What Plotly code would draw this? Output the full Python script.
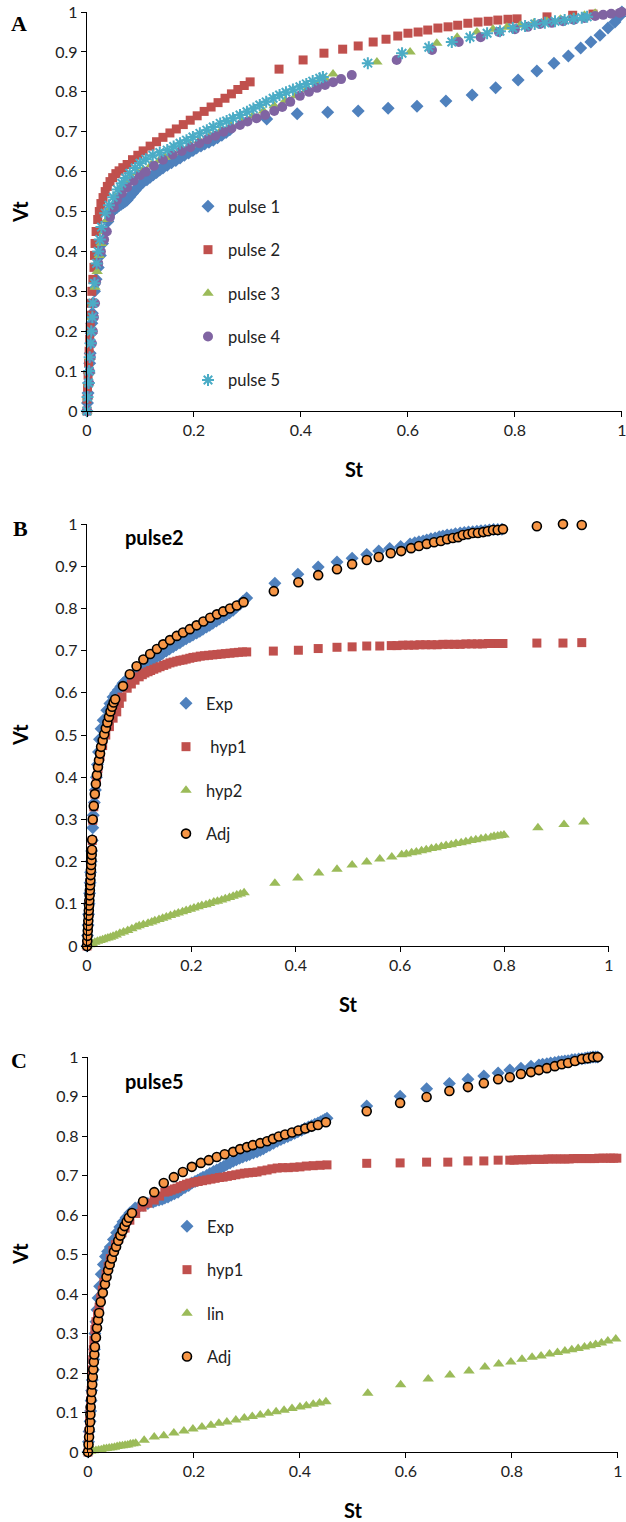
import plotly.graph_objects as go

# ---------------- Panel A data ----------------
a_p1_x = [0, 0.001, 0.002, 0.003, 0.004, 0.005, 0.006, 0.007, 0.008, 0.009, 0.010, 0.011, 0.014, 0.017, 0.021, 0.025, 0.029, 0.034, 0.039, 0.043, 0.047, 0.051, 0.056, 0.06, 0.064, 0.068, 0.072, 0.075, 0.08, 0.085, 0.09, 0.095, 0.1, 0.105, 0.112, 0.118, 0.124, 0.13, 0.136, 0.142, 0.15, 0.158, 0.166, 0.174, 0.182, 0.19, 0.198, 0.205, 0.213, 0.22, 0.228, 0.236, 0.244, 0.252, 0.26, 0.267, 0.336, 0.393, 0.45, 0.507, 0.563, 0.617, 0.671, 0.72, 0.764, 0.806, 0.841, 0.873, 0.9, 0.923, 0.942, 0.959, 0.974, 0.987, 0.996, 1.0]
a_p1_y = [0, 0.02, 0.045, 0.07, 0.095, 0.12, 0.145, 0.17, 0.195, 0.22, 0.245, 0.27, 0.3, 0.33, 0.36, 0.39, 0.42, 0.45, 0.475, 0.496, 0.5, 0.505, 0.51, 0.515, 0.518, 0.522, 0.526, 0.529, 0.537, 0.545, 0.553, 0.561, 0.568, 0.574, 0.58, 0.586, 0.592, 0.598, 0.604, 0.609, 0.616, 0.622, 0.628, 0.634, 0.641, 0.647, 0.653, 0.659, 0.664, 0.669, 0.674, 0.679, 0.685, 0.691, 0.698, 0.705, 0.732, 0.745, 0.749, 0.752, 0.759, 0.764, 0.777, 0.792, 0.81, 0.83, 0.852, 0.872, 0.89, 0.91, 0.925, 0.942, 0.96, 0.975, 0.99, 1.0]

a_p2_x = [0, 0.0, 0.001, 0.002, 0.003, 0.004, 0.005, 0.006, 0.007, 0.008, 0.009, 0.011, 0.013, 0.014, 0.015, 0.017, 0.02, 0.023, 0.026, 0.03, 0.034, 0.038, 0.043, 0.048, 0.054, 0.06, 0.067, 0.075, 0.085, 0.095, 0.105, 0.118, 0.13, 0.142, 0.155, 0.167, 0.18, 0.193, 0.206, 0.219, 0.232, 0.245, 0.258, 0.27, 0.282, 0.294, 0.305, 0.359, 0.404, 0.443, 0.478, 0.507, 0.535, 0.559, 0.581, 0.60, 0.619, 0.637, 0.656, 0.675, 0.693, 0.712, 0.731, 0.75, 0.768, 0.787, 0.804, 0.86, 0.908, 0.946]
a_p2_y = [0, 0.03, 0.06, 0.09, 0.12, 0.15, 0.18, 0.21, 0.24, 0.27, 0.30, 0.33, 0.36, 0.39, 0.42, 0.45, 0.48, 0.5, 0.52, 0.535, 0.55, 0.563, 0.575, 0.585, 0.595, 0.602, 0.61, 0.618, 0.63, 0.641, 0.652, 0.664, 0.675, 0.686, 0.697, 0.707, 0.718, 0.729, 0.74, 0.751, 0.762, 0.773, 0.784, 0.795, 0.806, 0.816, 0.825, 0.857, 0.88, 0.897, 0.907, 0.915, 0.925, 0.932, 0.94, 0.947, 0.95, 0.955, 0.96, 0.963, 0.967, 0.972, 0.975, 0.977, 0.98, 0.982, 0.983, 0.988, 0.992, 0.995]

a_p3_x = [0, 0.001, 0.003, 0.004, 0.006, 0.007, 0.009, 0.01, 0.012, 0.015, 0.019, 0.023, 0.027, 0.032, 0.038, 0.045, 0.053, 0.062, 0.072, 0.083, 0.095, 0.105, 0.12, 0.135, 0.146, 0.16, 0.175, 0.193, 0.21, 0.23, 0.25, 0.27, 0.29, 0.31, 0.33, 0.35, 0.37, 0.39, 0.41, 0.43, 0.445, 0.46, 0.542, 0.604, 0.654, 0.692, 0.729, 0.759, 0.785, 0.81, 0.835, 0.86, 0.885, 0.91, 0.93, 0.95]
a_p3_y = [0, 0.035, 0.07, 0.1, 0.135, 0.17, 0.2, 0.235, 0.27, 0.31, 0.35, 0.39, 0.42, 0.45, 0.48, 0.51, 0.535, 0.555, 0.572, 0.586, 0.597, 0.605, 0.617, 0.628, 0.636, 0.647, 0.656, 0.667, 0.678, 0.69, 0.703, 0.716, 0.728, 0.74, 0.752, 0.765, 0.778, 0.79, 0.805, 0.82, 0.833, 0.845, 0.875, 0.90, 0.922, 0.937, 0.95, 0.957, 0.962, 0.967, 0.972, 0.977, 0.982, 0.987, 0.992, 0.997]

a_p4_x = [0, 0.002, 0.004, 0.005, 0.007, 0.009, 0.011, 0.013, 0.015, 0.017, 0.021, 0.026, 0.032, 0.037, 0.043, 0.05, 0.056, 0.065, 0.075, 0.087, 0.099, 0.11, 0.125, 0.142, 0.16, 0.177, 0.193, 0.21, 0.225, 0.24, 0.255, 0.27, 0.286, 0.3, 0.317, 0.333, 0.35, 0.365, 0.38, 0.398, 0.415, 0.43, 0.445, 0.46, 0.475, 0.495, 0.579, 0.645, 0.695, 0.736, 0.77, 0.80, 0.824, 0.847, 0.869, 0.89, 0.91, 0.93, 0.95, 0.965, 0.98, 0.996, 1.0]
a_p4_y = [0, 0.035, 0.07, 0.1, 0.135, 0.17, 0.2, 0.235, 0.27, 0.323, 0.37, 0.4, 0.43, 0.45, 0.486, 0.51, 0.529, 0.546, 0.561, 0.577, 0.591, 0.6, 0.615, 0.63, 0.643, 0.652, 0.661, 0.671, 0.681, 0.69, 0.7, 0.708, 0.717, 0.726, 0.734, 0.742, 0.752, 0.762, 0.775, 0.79, 0.8, 0.81, 0.817, 0.824, 0.832, 0.842, 0.88, 0.905, 0.925, 0.937, 0.95, 0.957, 0.963, 0.97, 0.973, 0.977, 0.981, 0.985, 0.99, 0.993, 0.996, 0.998, 1.0]

a_p5_x = [0, 0.001, 0.003, 0.004, 0.005, 0.007, 0.008, 0.01, 0.011, 0.014, 0.018, 0.021, 0.024, 0.027, 0.034, 0.041, 0.049, 0.057, 0.065, 0.072, 0.08, 0.09, 0.099, 0.11, 0.123, 0.136, 0.15, 0.162, 0.174, 0.186, 0.198, 0.211, 0.224, 0.236, 0.249, 0.261, 0.273, 0.286, 0.299, 0.311, 0.323, 0.335, 0.348, 0.36, 0.372, 0.385, 0.398, 0.41, 0.422, 0.435, 0.441, 0.525, 0.589, 0.639, 0.682, 0.716, 0.748, 0.772, 0.796, 0.819, 0.837, 0.856, 0.875, 0.893, 0.91, 0.925, 0.935]
a_p5_y = [0, 0.035, 0.07, 0.1, 0.135, 0.17, 0.2, 0.235, 0.27, 0.32, 0.37, 0.4, 0.43, 0.461, 0.496, 0.516, 0.536, 0.555, 0.571, 0.584, 0.596, 0.609, 0.621, 0.631, 0.641, 0.648, 0.654, 0.663, 0.671, 0.679, 0.687, 0.696, 0.704, 0.712, 0.721, 0.727, 0.734, 0.742, 0.75, 0.758, 0.767, 0.775, 0.784, 0.792, 0.799, 0.806, 0.813, 0.82, 0.827, 0.834, 0.837, 0.872, 0.897, 0.912, 0.925, 0.937, 0.947, 0.952, 0.96, 0.965, 0.97, 0.973, 0.977, 0.98, 0.983, 0.986, 0.988]

# ---------------- Panel B data (pulse2) ----------------
b_exp_x = [0, 0.001, 0.002, 0.003, 0.004, 0.005, 0.006, 0.007, 0.008, 0.009, 0.01, 0.011, 0.012, 0.014, 0.016, 0.018, 0.02, 0.022, 0.024, 0.027, 0.031, 0.038, 0.044, 0.05, 0.055, 0.06, 0.065, 0.069, 0.075, 0.08, 0.088, 0.096, 0.103, 0.11, 0.118, 0.126, 0.132, 0.139, 0.145, 0.152, 0.158, 0.165, 0.171, 0.178, 0.184, 0.19, 0.197, 0.203, 0.21, 0.216, 0.222, 0.229, 0.235, 0.241, 0.248, 0.254, 0.261, 0.267, 0.273, 0.28, 0.286, 0.293, 0.299, 0.306, 0.36, 0.404, 0.443, 0.479, 0.508, 0.536, 0.559, 0.58, 0.601, 0.619, 0.628, 0.636, 0.644, 0.651, 0.659, 0.667, 0.675, 0.682, 0.69, 0.698, 0.706, 0.715, 0.723, 0.731, 0.739, 0.747, 0.755, 0.763, 0.771, 0.779, 0.787, 0.795]
b_exp_y = [0, 0.025, 0.05, 0.075, 0.1, 0.125, 0.15, 0.175, 0.2, 0.225, 0.25, 0.28, 0.31, 0.34, 0.37, 0.4, 0.43, 0.46, 0.49, 0.515, 0.535, 0.559, 0.575, 0.59, 0.599, 0.607, 0.615, 0.623, 0.629, 0.636, 0.643, 0.65, 0.657, 0.664, 0.671, 0.678, 0.683, 0.688, 0.694, 0.699, 0.704, 0.709, 0.714, 0.719, 0.724, 0.728, 0.733, 0.737, 0.742, 0.746, 0.751, 0.756, 0.76, 0.765, 0.77, 0.775, 0.78, 0.785, 0.79, 0.796, 0.803, 0.81, 0.817, 0.825, 0.86, 0.881, 0.898, 0.91, 0.919, 0.928, 0.936, 0.942, 0.947, 0.953, 0.956, 0.958, 0.96, 0.962, 0.965, 0.967, 0.97, 0.972, 0.974, 0.975, 0.977, 0.979, 0.98, 0.981, 0.982, 0.983, 0.984, 0.985, 0.986, 0.987, 0.987, 0.988]

b_hyp1_x = [0, 0.001, 0.002, 0.003, 0.004, 0.005, 0.006, 0.007, 0.008, 0.009, 0.01, 0.011, 0.013, 0.015, 0.018, 0.021, 0.025, 0.03, 0.036, 0.043, 0.05, 0.057, 0.062, 0.067, 0.077, 0.085, 0.092, 0.1, 0.106, 0.111, 0.117, 0.122, 0.128, 0.134, 0.14, 0.147, 0.153, 0.159, 0.165, 0.172, 0.178, 0.184, 0.19, 0.197, 0.203, 0.21, 0.217, 0.225, 0.233, 0.241, 0.249, 0.257, 0.265, 0.274, 0.282, 0.29, 0.298, 0.306, 0.357, 0.405, 0.443, 0.479, 0.508, 0.536, 0.561, 0.583, 0.594, 0.605, 0.616, 0.627, 0.638, 0.649, 0.66, 0.671, 0.682, 0.693, 0.704, 0.715, 0.726, 0.737, 0.748, 0.758, 0.769, 0.78, 0.789, 0.797, 0.862, 0.912, 0.948]
b_hyp1_y = [0, 0.025, 0.05, 0.075, 0.1, 0.125, 0.15, 0.175, 0.2, 0.225, 0.25, 0.298, 0.33, 0.36, 0.39, 0.42, 0.45, 0.475, 0.5, 0.52, 0.54, 0.555, 0.575, 0.59, 0.611, 0.621, 0.63, 0.638, 0.643, 0.647, 0.65, 0.653, 0.656, 0.659, 0.662, 0.665, 0.668, 0.671, 0.673, 0.675, 0.677, 0.678, 0.68, 0.682, 0.684, 0.685, 0.687, 0.688, 0.689, 0.69, 0.691, 0.692, 0.693, 0.694, 0.695, 0.696, 0.697, 0.697, 0.699, 0.701, 0.705, 0.708, 0.709, 0.711, 0.711, 0.712, 0.712, 0.713, 0.713, 0.713, 0.714, 0.714, 0.714, 0.714, 0.715, 0.715, 0.715, 0.715, 0.716, 0.716, 0.716, 0.716, 0.717, 0.717, 0.717, 0.717, 0.718, 0.718, 0.719]

b_hyp2_x = [0, 0.005, 0.01, 0.015, 0.02, 0.025, 0.03, 0.035, 0.04, 0.045, 0.05, 0.056, 0.063, 0.07, 0.078, 0.086, 0.094, 0.1, 0.108, 0.117, 0.124, 0.13, 0.138, 0.145, 0.152, 0.16, 0.168, 0.175, 0.183, 0.19, 0.198, 0.205, 0.213, 0.22, 0.228, 0.235, 0.243, 0.25, 0.258, 0.265, 0.273, 0.28, 0.287, 0.294, 0.301, 0.36, 0.404, 0.444, 0.479, 0.508, 0.536, 0.561, 0.584, 0.603, 0.612, 0.622, 0.631, 0.641, 0.65, 0.66, 0.669, 0.679, 0.688, 0.698, 0.707, 0.717, 0.726, 0.736, 0.745, 0.755, 0.764, 0.774, 0.78, 0.787, 0.793, 0.799, 0.864, 0.914, 0.952]
b_hyp2_y = [0, 0.003, 0.006, 0.009, 0.011, 0.013, 0.015, 0.017, 0.019, 0.021, 0.023, 0.026, 0.03, 0.033, 0.037, 0.041, 0.045, 0.048, 0.051, 0.054, 0.057, 0.06, 0.063, 0.066, 0.069, 0.072, 0.075, 0.078, 0.081, 0.084, 0.087, 0.09, 0.093, 0.096, 0.098, 0.101, 0.104, 0.106, 0.109, 0.112, 0.115, 0.118, 0.121, 0.123, 0.126, 0.149, 0.161, 0.173, 0.182, 0.192, 0.199, 0.206, 0.211, 0.216, 0.218, 0.221, 0.223, 0.226, 0.228, 0.231, 0.233, 0.236, 0.238, 0.24, 0.243, 0.245, 0.247, 0.25, 0.252, 0.254, 0.256, 0.258, 0.26, 0.261, 0.262, 0.263, 0.28, 0.288, 0.294]

b_adj_x = [0, 0.0005, 0.001, 0.0015, 0.002, 0.0025, 0.003, 0.0035, 0.004, 0.0045, 0.005, 0.0055, 0.006, 0.0065, 0.007, 0.0075, 0.008, 0.0085, 0.009, 0.0095, 0.01, 0.011, 0.013, 0.015, 0.017, 0.019, 0.021, 0.023, 0.025, 0.027, 0.03, 0.033, 0.036, 0.039, 0.042, 0.045, 0.048, 0.051, 0.054, 0.069, 0.082, 0.095, 0.108, 0.121, 0.134, 0.146, 0.159, 0.172, 0.184, 0.197, 0.21, 0.223, 0.236, 0.249, 0.261, 0.274, 0.287, 0.3, 0.358, 0.405, 0.443, 0.479, 0.508, 0.536, 0.559, 0.582, 0.602, 0.621, 0.636, 0.651, 0.665, 0.678, 0.69, 0.701, 0.711, 0.72, 0.73, 0.739, 0.749, 0.759, 0.768, 0.778, 0.787, 0.797, 0.862, 0.912, 0.948]
b_adj_y = [0, 0.012, 0.024, 0.036, 0.048, 0.06, 0.072, 0.084, 0.096, 0.108, 0.12, 0.132, 0.144, 0.156, 0.168, 0.18, 0.192, 0.204, 0.216, 0.228, 0.252, 0.3, 0.332, 0.36, 0.384, 0.405, 0.424, 0.44, 0.456, 0.472, 0.487, 0.502, 0.516, 0.53, 0.543, 0.556, 0.567, 0.577, 0.585, 0.616, 0.644, 0.663, 0.679, 0.692, 0.704, 0.715, 0.725, 0.735, 0.743, 0.751, 0.76, 0.769, 0.778, 0.786, 0.793, 0.8, 0.807, 0.815, 0.841, 0.862, 0.879, 0.893, 0.905, 0.915, 0.922, 0.931, 0.936, 0.943, 0.948, 0.953, 0.957, 0.96, 0.964, 0.967, 0.969, 0.974, 0.976, 0.979, 0.979, 0.981, 0.983, 0.986, 0.986, 0.988, 0.995, 1.0, 0.998]

# ---------------- Panel C data (pulse5) ----------------
c_exp_x = [0, 0.001, 0.002, 0.004, 0.005, 0.006, 0.007, 0.008, 0.01, 0.011, 0.012, 0.013, 0.015, 0.017, 0.019, 0.022, 0.025, 0.029, 0.033, 0.037, 0.042, 0.048, 0.054, 0.06, 0.066, 0.072, 0.079, 0.089, 0.096, 0.104, 0.113, 0.123, 0.128, 0.134, 0.14, 0.145, 0.151, 0.157, 0.163, 0.17, 0.176, 0.183, 0.19, 0.196, 0.202, 0.207, 0.212, 0.217, 0.224, 0.23, 0.237, 0.243, 0.25, 0.256, 0.262, 0.268, 0.274, 0.28, 0.286, 0.292, 0.299, 0.305, 0.312, 0.319, 0.325, 0.331, 0.337, 0.343, 0.35, 0.357, 0.364, 0.37, 0.377, 0.383, 0.39, 0.396, 0.403, 0.409, 0.416, 0.422, 0.428, 0.434, 0.439, 0.443, 0.447, 0.451, 0.526, 0.589, 0.639, 0.682, 0.717, 0.747, 0.774, 0.796, 0.817, 0.836, 0.851, 0.858, 0.866, 0.873, 0.881, 0.888, 0.894, 0.9, 0.906, 0.913, 0.919, 0.926, 0.932, 0.938, 0.943, 0.948, 0.953, 0.958, 0.962]
c_exp_y = [0, 0.026, 0.052, 0.078, 0.104, 0.13, 0.156, 0.182, 0.208, 0.234, 0.26, 0.3, 0.33, 0.36, 0.39, 0.42, 0.45, 0.475, 0.495, 0.508, 0.519, 0.538, 0.555, 0.57, 0.583, 0.594, 0.605, 0.618, 0.621, 0.625, 0.629, 0.633, 0.636, 0.638, 0.64, 0.643, 0.646, 0.65, 0.654, 0.658, 0.664, 0.67, 0.675, 0.681, 0.685, 0.688, 0.692, 0.696, 0.7, 0.705, 0.71, 0.714, 0.719, 0.723, 0.728, 0.732, 0.736, 0.74, 0.744, 0.747, 0.75, 0.753, 0.757, 0.76, 0.764, 0.768, 0.773, 0.777, 0.782, 0.787, 0.791, 0.795, 0.799, 0.803, 0.807, 0.811, 0.815, 0.819, 0.823, 0.826, 0.83, 0.833, 0.836, 0.839, 0.842, 0.845, 0.876, 0.901, 0.92, 0.933, 0.944, 0.952, 0.96, 0.967, 0.972, 0.977, 0.98, 0.982, 0.983, 0.985, 0.986, 0.988, 0.989, 0.99, 0.991, 0.993, 0.994, 0.995, 0.996, 0.997, 0.998, 0.999, 1.0, 1.0, 1.0]

c_hyp1_x = [0, 0.001, 0.002, 0.003, 0.004, 0.005, 0.006, 0.007, 0.008, 0.009, 0.01, 0.011, 0.013, 0.015, 0.018, 0.021, 0.024, 0.027, 0.03, 0.034, 0.038, 0.042, 0.047, 0.052, 0.058, 0.064, 0.07, 0.079, 0.09, 0.102, 0.113, 0.125, 0.135, 0.145, 0.151, 0.157, 0.163, 0.168, 0.174, 0.18, 0.186, 0.192, 0.2, 0.208, 0.216, 0.224, 0.232, 0.24, 0.248, 0.255, 0.263, 0.271, 0.279, 0.287, 0.295, 0.303, 0.311, 0.319, 0.328, 0.338, 0.347, 0.357, 0.367, 0.378, 0.389, 0.4, 0.412, 0.425, 0.438, 0.451, 0.526, 0.589, 0.639, 0.679, 0.717, 0.747, 0.774, 0.796, 0.804, 0.812, 0.82, 0.828, 0.836, 0.844, 0.852, 0.86, 0.868, 0.876, 0.884, 0.892, 0.9, 0.908, 0.916, 0.924, 0.932, 0.94, 0.948, 0.956, 0.964, 0.972, 0.98, 0.986, 0.992, 0.998]
c_hyp1_y = [0, 0.026, 0.052, 0.078, 0.104, 0.13, 0.156, 0.182, 0.208, 0.234, 0.26, 0.283, 0.31, 0.33, 0.35, 0.367, 0.39, 0.41, 0.43, 0.45, 0.47, 0.49, 0.51, 0.525, 0.54, 0.555, 0.567, 0.587, 0.604, 0.62, 0.63, 0.638, 0.648, 0.658, 0.66, 0.663, 0.666, 0.668, 0.672, 0.675, 0.678, 0.681, 0.683, 0.685, 0.687, 0.689, 0.691, 0.693, 0.695, 0.696, 0.698, 0.7, 0.702, 0.704, 0.706, 0.707, 0.708, 0.709, 0.712, 0.714, 0.717, 0.719, 0.72, 0.72, 0.721, 0.722, 0.724, 0.725, 0.726, 0.727, 0.731, 0.732, 0.734, 0.734, 0.737, 0.737, 0.739, 0.739, 0.739, 0.74, 0.74, 0.74, 0.741, 0.741, 0.741, 0.741, 0.742, 0.742, 0.742, 0.742, 0.742, 0.742, 0.743, 0.743, 0.743, 0.743, 0.743, 0.743, 0.744, 0.744, 0.744, 0.744, 0.744, 0.744]

c_lin_x = [0, 0.005, 0.01, 0.015, 0.02, 0.025, 0.03, 0.035, 0.04, 0.045, 0.05, 0.055, 0.06, 0.065, 0.07, 0.075, 0.08, 0.085, 0.09, 0.106, 0.125, 0.143, 0.162, 0.181, 0.198, 0.215, 0.232, 0.247, 0.262, 0.279, 0.295, 0.31, 0.325, 0.34, 0.355, 0.37, 0.385, 0.4, 0.412, 0.425, 0.437, 0.449, 0.528, 0.59, 0.642, 0.683, 0.719, 0.749, 0.775, 0.798, 0.819, 0.838, 0.855, 0.871, 0.886, 0.9, 0.913, 0.925, 0.937, 0.948, 0.958, 0.969, 0.981, 0.996]
c_lin_y = [0, 0.002, 0.003, 0.004, 0.005, 0.006, 0.008, 0.009, 0.01, 0.011, 0.012, 0.014, 0.015, 0.016, 0.017, 0.018, 0.02, 0.021, 0.022, 0.03, 0.038, 0.041, 0.048, 0.053, 0.058, 0.063, 0.068, 0.073, 0.076, 0.081, 0.086, 0.09, 0.094, 0.098, 0.102, 0.106, 0.11, 0.114, 0.117, 0.121, 0.124, 0.127, 0.149, 0.17, 0.185, 0.195, 0.205, 0.215, 0.223, 0.228, 0.235, 0.24, 0.243, 0.248, 0.252, 0.256, 0.259, 0.262, 0.266, 0.269, 0.272, 0.276, 0.281, 0.286]

c_adj_x = [0, 0.001, 0.002, 0.003, 0.004, 0.0045, 0.005, 0.006, 0.007, 0.008, 0.009, 0.01, 0.011, 0.012, 0.013, 0.015, 0.017, 0.019, 0.021, 0.024, 0.028, 0.032, 0.035, 0.038, 0.041, 0.045, 0.049, 0.053, 0.057, 0.061, 0.065, 0.069, 0.073, 0.077, 0.083, 0.104, 0.125, 0.143, 0.162, 0.179, 0.196, 0.213, 0.228, 0.243, 0.258, 0.274, 0.287, 0.3, 0.311, 0.325, 0.338, 0.349, 0.36, 0.372, 0.385, 0.397, 0.41, 0.422, 0.434, 0.449, 0.526, 0.589, 0.639, 0.682, 0.717, 0.747, 0.774, 0.796, 0.817, 0.836, 0.851, 0.866, 0.881, 0.894, 0.906, 0.919, 0.932, 0.943, 0.953, 0.962]
c_adj_y = [0, 0.019, 0.038, 0.057, 0.076, 0.095, 0.114, 0.133, 0.152, 0.171, 0.19, 0.209, 0.228, 0.247, 0.266, 0.29, 0.314, 0.334, 0.352, 0.38, 0.403, 0.425, 0.443, 0.46, 0.475, 0.49, 0.507, 0.52, 0.535, 0.548, 0.56, 0.572, 0.583, 0.593, 0.605, 0.635, 0.658, 0.681, 0.696, 0.709, 0.722, 0.732, 0.739, 0.747, 0.754, 0.76, 0.767, 0.772, 0.777, 0.782, 0.787, 0.793, 0.799, 0.804, 0.809, 0.814, 0.819, 0.824, 0.828, 0.835, 0.863, 0.884, 0.899, 0.914, 0.924, 0.934, 0.944, 0.949, 0.957, 0.962, 0.967, 0.972, 0.977, 0.982, 0.985, 0.99, 0.995, 0.997, 1.0, 1.0]

y_ticks = [0, 0.1, 0.2, 0.3, 0.4, 0.5, 0.6, 0.7, 0.8, 0.9, 1]
x_ticks = [0, 0.2, 0.4, 0.6, 0.8, 1]

# ---------------- styling ----------------
W, H = 626, 1522
BLUE, RED, GREEN, PURPLE, CYAN, ORANGE = "#4F81BD", "#C0504D", "#9BBB59", "#8064A2", "#4BACC6", "#F79646"
FONT = "Lato, Open Sans, sans-serif"

def px_x(p):
    return p / W

def px_y(p):
    return 1 - p / H

STY = {
    "dia": dict(symbol="diamond", size=10, color=BLUE, line=dict(width=0)),
    "sq": dict(symbol="square", size=9, color=RED, line=dict(width=0)),
    "tri": dict(symbol="triangle-up", size=10, color=GREEN, line=dict(width=0)),
    "circ": dict(symbol="circle", size=10, color=PURPLE, line=dict(width=0)),
    "ast": dict(symbol="asterisk-open", size=10, color=CYAN, line=dict(width=2, color=CYAN)),
    "adj": dict(symbol="circle", size=9, color=ORANGE, line=dict(width=1.6, color="black")),
}

fig = go.Figure()

def add(x, y, name, sty, xa, ya, leg, grp):
    fig.add_trace(go.Scatter(
        x=x, y=y, mode="markers", name=name, marker=STY[sty],
        xaxis=xa, yaxis=ya, legend=leg, legendgroup=grp, cliponaxis=False,
        showlegend=True))

add(a_p1_x, a_p1_y, "pulse 1", "dia", "x", "y", "legend", "a1")
add(a_p2_x, a_p2_y, "pulse 2", "sq", "x", "y", "legend", "a2")
add(a_p3_x, a_p3_y, "pulse 3", "tri", "x", "y", "legend", "a3")
add(a_p4_x, a_p4_y, "pulse 4", "circ", "x", "y", "legend", "a4")
add(a_p5_x, a_p5_y, "pulse 5", "ast", "x", "y", "legend", "a5")

add(b_exp_x, b_exp_y, "Exp", "dia", "x2", "y2", "legend2", "b1")
add(b_hyp1_x, b_hyp1_y, " hyp1", "sq", "x2", "y2", "legend2", "b2")
add(b_hyp2_x, b_hyp2_y, "hyp2", "tri", "x2", "y2", "legend2", "b3")
add(b_adj_x, b_adj_y, "Adj", "adj", "x2", "y2", "legend2", "b4")

add(c_exp_x, c_exp_y, "Exp", "dia", "x3", "y3", "legend3", "c1")
add(c_hyp1_x, c_hyp1_y, "hyp1", "sq", "x3", "y3", "legend3", "c2")
add(c_lin_x, c_lin_y, "lin", "tri", "x3", "y3", "legend3", "c3")
add(c_adj_x, c_adj_y, "Adj", "adj", "x3", "y3", "legend3", "c4")

# panel geometry in pixels: (left, right, top, bottom)
panels = {"": (87, 622, 12, 411), "2": (87, 609, 524, 946), "3": (88, 618, 1057, 1452)}

axis_common = dict(showgrid=False, zeroline=False, showline=True, linecolor="black",
                   linewidth=1.3, ticks="outside", ticklen=5, tickwidth=1.2, tickcolor="black",
                   tickfont=dict(family=FONT, size=16, color="#222"), range=[0, 1.0002],
                   automargin=False, ticklabeloverflow="allow")
for k, (l, r, t, b) in panels.items():
    fig.layout["xaxis" + k] = dict(axis_common, domain=[px_x(l), px_x(r)], tickvals=x_ticks,
                                   ticktext=[str(v) for v in x_ticks], anchor="y" + k)
    fig.layout["yaxis" + k] = dict(axis_common, domain=[px_y(b), px_y(t)], tickvals=y_ticks,
                                   ticktext=[str(v) for v in y_ticks], anchor="x" + k)

def leg(xp, yp):
    return dict(x=px_x(xp), y=px_y(yp), xanchor="left", yanchor="top",
                bgcolor="rgba(0,0,0,0)", font=dict(family=FONT, size=16.5, color="#222"),
                tracegroupgap=19, itemsizing="trace")

fig.update_layout(
    template="none",
    width=W, height=H, autosize=False,
    margin=dict(l=0, r=0, t=0, b=0, pad=0),
    paper_bgcolor="white", plot_bgcolor="white",
    legend=leg(188, 189), legend2=leg(166, 686), legend3=leg(167, 1209),
)

anns = [
    ("A", 19, 23, 0, "Liberation Serif", 22),
    ("B", 20, 528, 0, "Liberation Serif", 22),
    ("C", 19, 1060, 0, "Liberation Serif", 22),
    ("Vt", 20, 212, -90, FONT, 20),
    ("Vt", 20, 735, -90, FONT, 20),
    ("Vt", 20, 1254, -90, FONT, 20),
    ("St", 354, 469, 0, FONT, 20),
    ("St", 348, 1004, 0, FONT, 20),
    ("St", 353, 1510, 0, FONT, 20),
    ("pulse2", 154, 537, 0, FONT, 20),
    ("pulse5", 154, 1081, 0, FONT, 20),
]
for txt, xp, yp, ang, fam, sz in anns:
    fig.add_annotation(text="<b>" + txt + "</b>", x=px_x(xp), y=px_y(yp), xref="paper", yref="paper",
                       showarrow=False, textangle=ang, xanchor="center", yanchor="middle",
                       font=dict(family=fam, size=sz, color="black"))

fig.write_html("out.html", config={"displayModeBar": False},
               post_script="document.body.style.margin='0';document.body.style.overflow='hidden';")
